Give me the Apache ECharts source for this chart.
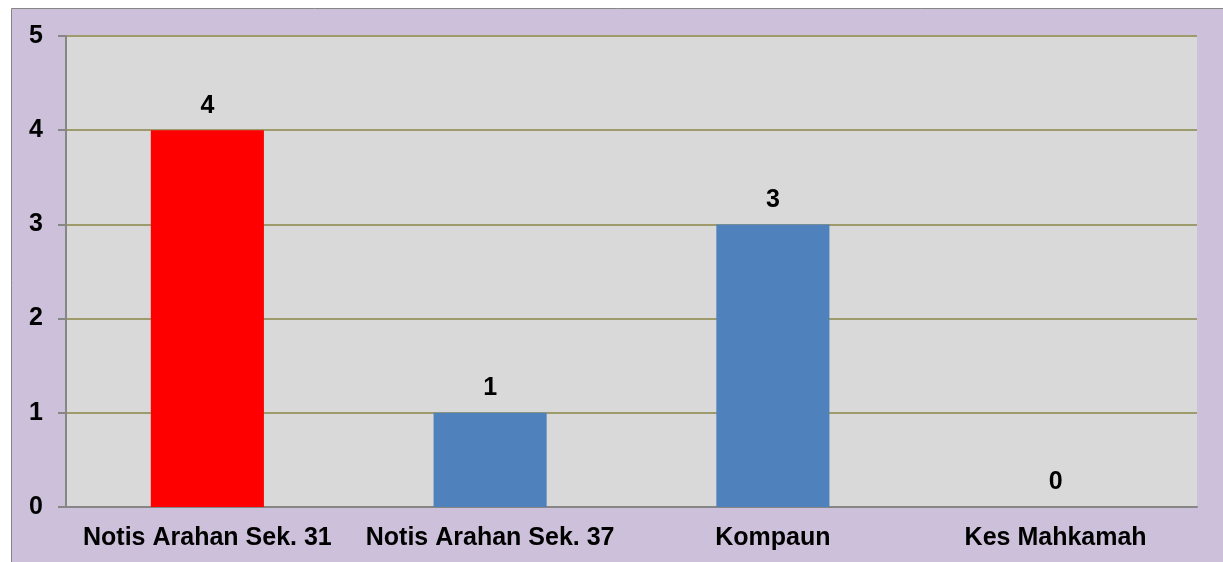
<!DOCTYPE html>
<html>
<head>
<meta charset="utf-8">
<script src="https://cdn.jsdelivr.net/npm/echarts@6/dist/echarts.min.js"></script>
<style>
html, body { margin: 0; padding: 0; background: #fff; }
#chart-1 { width: 1223px; height: 562px; }
</style>
</head>
<body>
<div id="chart-1"></div>
<script>
var categories = ['Notis Arahan Sek. 31', 'Notis Arahan Sek. 37', 'Kompaun', 'Kes Mahkamah'];
var values = [4, 1, 3, 0];
var barColors = ['#FF0000', '#4F81BD', '#4F81BD', '#4F81BD'];
var yTicks = [0, 1, 2, 3, 4, 5];

var dom = document.getElementById('chart-1');
var myChart = echarts.init(dom);

var textStyle = {
    fontFamily: 'Liberation Sans, Arial, sans-serif',
    fontWeight: 'bold',
    fontSize: 25,
    color: '#000'
};

var option = {
    backgroundColor: '#fff',
    animation: false,
    graphic: [{
        type: 'rect',
        z: -10,
        shape: { x: 11.5, y: 8.5, width: 1220, height: 560 },
        style: { fill: '#CCC0DA', stroke: '#868686', lineWidth: 1 }
    }],
    grid: {
        left: 66,
        right: 26,
        top: 36,
        bottom: 55,
        show: true,
        backgroundColor: '#D9D9D9',
        borderWidth: 0
    },
    xAxis: {
        type: 'category',
        data: categories,
        axisLine: { lineStyle: { color: '#868686', width: 2 } },
        axisTick: { length: 7, lineStyle: { color: '#868686', width: 2 } },
        axisLabel: Object.assign({ margin: 19, interval: 0 }, textStyle)
    },
    yAxis: {
        type: 'value',
        min: yTicks[0],
        max: yTicks[yTicks.length - 1],
        interval: 1,
        axisLine: { show: true, lineStyle: { color: '#868686', width: 2 } },
        axisTick: { show: true, length: 8, lineStyle: { color: '#868686', width: 2 } },
        splitLine: { lineStyle: { color: '#9D9A6C', width: 2 } },
        axisLabel: Object.assign({ margin: 23, padding: [4, 0, 0, 0] }, textStyle)
    },
    series: [{
        type: 'bar',
        barWidth: '40%',
        data: values.map(function (v, i) {
            return { value: v, itemStyle: { color: barColors[i] } };
        }),
        label: Object.assign({ show: true, position: 'top', distance: 12 }, textStyle)
    }]
};

myChart.setOption(option);
</script>
</body>
</html>
